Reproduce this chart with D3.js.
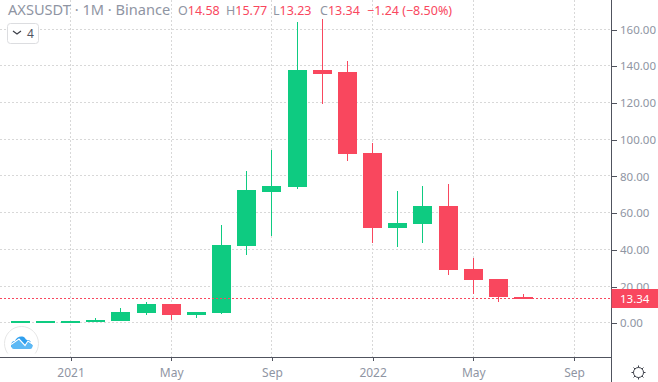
<!DOCTYPE html>
<html>
<head>
<meta charset="utf-8">
<script src="https://cdn.jsdelivr.net/npm/d3@7"></script>
<style>
  html, body { margin: 0; padding: 0; background: #fff; }
  svg { display: block; }
  text { font-family: "Noto Sans", sans-serif; }
</style>
</head>
<body>
<svg id="chart" width="658" height="382"></svg>
<script>
const width = 658, height = 382;
const axisX = 611.5, axisY = 357;

// Months on the time axis, last candle is Jul 2022
const months = ['2020-11','2020-12','2021-01','2021-02','2021-03','2021-04','2021-05','2021-06','2021-07','2021-08','2021-09','2021-10','2021-11','2021-12','2022-01','2022-02','2022-03','2022-04','2022-05','2022-06','2022-07','2022-08','2022-09'];

// Candle values
const opens  = [0.2, 0.6, 0.6, 0.8, 1.3, 5.6, 10.5, 4.5, 5.6, 42, 71.3, 74, 138, 137, 93, 51.7, 53.9, 63.7, 29.5, 24, 14.58];
const highs  = [1.2, 1.4, 1.3, 2.9, 8.3, 11.5, 10.5, 6.1, 53.4, 83.2, 94.6, 164, 165.7, 143, 98, 71.8, 74.5, 75.6, 35.4, 24, 15.77];
const lows   = [0.2, 0.5, 0.6, 0.8, 1.3, 4.5, 1.8, 2.9, 5, 37, 47.4, 73.4, 119.6, 88.6, 44, 41.4, 44, 26.2, 15.9, 11.6, 13.23];
const closes = [1, 1, 1.3, 1.8, 6.1, 10.5, 4.5, 6.1, 42.5, 72.4, 74.5, 138, 135.9, 92.4, 51.7, 54.4, 63.7, 28.9, 23.5, 14.3, 13.34];

const priceTicks = [0, 20, 40, 60, 80, 100, 120, 140, 160];
const timeTicks = ['2021-01', '2021-05', '2021-09', '2022-01', '2022-05', '2022-09'];
const timeLabels = ['2021', 'May', 'Sep', '2022', 'May', 'Sep'];
const lastPrice = 13.34;

const upColor = '#0ecb81', downColor = '#f9475e';
const gridColor = '#d8d8d8', axisColor = '#50535e', textColor = '#8f95a3';

const svg = d3.select('#chart');

const x = d3.scalePoint().domain(months).range([20.2, 574]);
const y = d3.scaleLinear().domain([0, 160]).range([323.3, 29.5]);

const candles = opens.map((o, i) => ({
    month: months[i], open: o, high: highs[i], low: lows[i], close: closes[i]
}));

// Grid
const grid = svg.append('g').attr('shape-rendering', 'crispEdges');
grid.selectAll('.h').data(priceTicks).enter().append('line')
    .attr('x1', 0).attr('x2', axisX)
    .attr('y1', d => Math.round(y(d)) - 0.5).attr('y2', d => Math.round(y(d)) - 0.5)
    .attr('stroke', gridColor).attr('stroke-dasharray', '2,2');
grid.selectAll('.v').data(timeTicks).enter().append('line')
    .attr('y1', 0).attr('y2', axisY)
    .attr('x1', d => Math.floor(x(d)) + 0.5).attr('x2', d => Math.floor(x(d)) + 0.5)
    .attr('stroke', gridColor).attr('stroke-dasharray', '2,2');

// Candles
const candle = svg.append('g').attr('shape-rendering', 'crispEdges')
    .selectAll('g').data(candles).enter().append('g')
    .attr('fill', d => d.close >= d.open ? upColor : downColor);

candle.append('rect')
    .attr('x', d => Math.floor(x(d.month)))
    .attr('width', 1)
    .attr('y', d => Math.round(y(d.high)))
    .attr('height', d => Math.round(y(d.low)) - Math.round(y(d.high)));

candle.append('rect')
    .attr('x', d => Math.floor(x(d.month)) - 9)
    .attr('width', 19)
    .attr('y', d => Math.round(y(Math.max(d.open, d.close))))
    .attr('height', d => Math.max(2, Math.round(y(Math.min(d.open, d.close))) - Math.round(y(Math.max(d.open, d.close)))));

// Last price line
svg.append('line')
    .attr('x1', 0).attr('x2', axisX)
    .attr('y1', Math.round(y(lastPrice)) - 0.5).attr('y2', Math.round(y(lastPrice)) - 0.5)
    .attr('stroke', downColor).attr('stroke-dasharray', '2,2')
    .attr('shape-rendering', 'crispEdges');

// Price axis
const yAxis = d3.axisRight(y).tickValues(priceTicks).tickSize(5).tickPadding(3.5).tickFormat(d3.format('.2f'));
const yG = svg.append('g').attr('transform', `translate(${axisX},0)`).call(yAxis);
yG.select('.domain').remove();
yG.selectAll('line').attr('stroke', axisColor).attr('shape-rendering', 'crispEdges');
yG.selectAll('text').attr('fill', textColor).attr('font-size', 11.5).style('font-family', '"Noto Sans", sans-serif');

// Time axis
const xAxis = d3.axisBottom(x).tickValues(timeTicks).tickSize(4).tickPadding(7)
    .tickFormat(d => timeLabels[timeTicks.indexOf(d)]);
const xG = svg.append('g').attr('transform', `translate(0,${axisY})`).call(xAxis);
xG.select('.domain').remove();
xG.selectAll('line').attr('stroke', axisColor).attr('shape-rendering', 'crispEdges');
xG.selectAll('text').attr('fill', textColor).attr('font-size', 12).style('font-family', '"Noto Sans", sans-serif');

// Axis lines
svg.append('line').attr('x1', axisX).attr('x2', axisX).attr('y1', 0).attr('y2', height)
    .attr('stroke', axisColor).attr('shape-rendering', 'crispEdges');
svg.append('line').attr('x1', 0).attr('x2', axisX).attr('y1', axisY + 0.5).attr('y2', axisY + 0.5)
    .attr('stroke', axisColor).attr('shape-rendering', 'crispEdges');

// Last price label
svg.append('rect').attr('x', axisX).attr('y', 289).attr('width', 47).attr('height', 19).attr('fill', downColor);
svg.append('text').attr('x', 620).attr('y', y(lastPrice) + 4.5)
    .attr('fill', '#fff').attr('font-size', 11.5).text(lastPrice.toFixed(2));

// Legend line
const legend = svg.append('text').attr('y', 15);
legend.append('tspan').attr('x', 8).attr('fill', '#8f95a3').attr('font-size', 14.6).text('AXSUSDT · 1M · Binance');
const ohlc = [['O', opens], ['H', highs], ['L', lows], ['C', closes]];
const ohlcX = [178, 226, 273, 320];
ohlc.forEach(([name, arr], i) => {
    legend.append('tspan').attr('x', ohlcX[i]).attr('fill', '#8f95a3').attr('font-size', 12.5).text(name);
    legend.append('tspan').attr('fill', downColor).attr('font-size', 12.5).text(arr[arr.length - 1].toFixed(2));
});
legend.append('tspan').attr('x', 367).attr('fill', downColor).attr('font-size', 12.5).text('−1.24 (−8.50%)');

// Indicator count button
svg.append('rect').attr('x', 7.5).attr('y', 23.5).attr('width', 31).attr('height', 20).attr('rx', 3)
    .attr('fill', '#fff').attr('stroke', '#dcdde0');
svg.append('path').attr('d', 'M13 31 l4 3 l4 -3').attr('fill', 'none').attr('stroke', '#3c3f48').attr('stroke-width', 1.2);
svg.append('text').attr('x', 27).attr('y', 38).attr('font-size', 12).attr('fill', '#50535e').text('4');

// Logo
svg.append('clipPath').attr('id', 'logoClip').append('rect').attr('x', 0).attr('y', 320).attr('width', 50).attr('height', 33.5);
const logo = svg.append('g').attr('clip-path', 'url(#logoClip)');
logo.append('circle').attr('cx', 21.5).attr('cy', 343.5).attr('r', 17).attr('fill', '#fff').attr('stroke', '#e6e6e6');
logo.append('path').attr('fill', '#2f9fee')
    .attr('d', 'M11 346 C11 342 13 341 15 341 C16 337 22 335 25 338 C26 340 27 340 28 340 C30 340 31 342 31 343 C33 344 33 346 32 347 L11 347 Z');
logo.append('path').attr('fill', '#5db9f5')
    .attr('d', 'M11 345 L19 340 L25 346 L28 342 L32 345 C33 347 32 349 30 349 L14 349 C12 349 11 347 11 345 Z');
logo.append('path').attr('fill', 'none').attr('stroke', '#fff').attr('stroke-width', 1.2)
    .attr('d', 'M11 344.5 L19 339 L25 345.5 L28 341 L33 344.5');

// Settings gear
const gear = svg.append('g').attr('transform', 'translate(638.5,372.5)').attr('fill', 'none').attr('stroke', '#3c3f48');
gear.append('circle').attr('r', 5);
d3.range(8).forEach(i => {
    const a = i * Math.PI / 4;
    gear.append('line').attr('x1', 5 * Math.cos(a)).attr('y1', 5 * Math.sin(a))
        .attr('x2', 7 * Math.cos(a)).attr('y2', 7 * Math.sin(a));
});
</script>
</body>
</html>
